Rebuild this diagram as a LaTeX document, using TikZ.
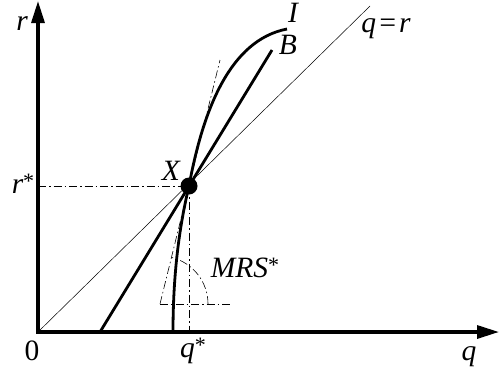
\documentclass[tikz,border=0pt]{standalone}
\usepackage{fontspec}
\setmainfont{Liberation Serif}
\newfontfamily\lblfont{Liberation Serif}
\usetikzlibrary{arrows.meta}
\newcommand{\myast}{\raisebox{0.16em}{\fontsize{22}{22}\selectfont\upshape *}}
\begin{document}
\begin{tikzpicture}[x=1pt,y=-1pt,
  font=\lblfont\fontsize{29.5}{34}\selectfont,
  axis/.style={line width=3.2pt,-{Triangle[length=22pt,width=13pt]}},
  curve/.style={line width=2.8pt},
  thin/.style={line width=0.5pt},
  dashdot/.style={line width=0.6pt,dash pattern=on 8pt off 3pt on 1.5pt off 3pt},
  lbl/.style={anchor=base,inner sep=0pt}]
\useasboundingbox (0,0) rectangle (500,368);
% coordinates
\coordinate (O) at (38,332);
\coordinate (X) at (189,186);
\coordinate (Ytop) at (38,1);
\coordinate (Xend) at (499,332);
\coordinate (Ostart) at (38,333.6);
\coordinate (Oleft) at (36.4,332);
\coordinate (D) at (370,6);
\coordinate (B0) at (100,332);
\coordinate (B1) at (272,50);
\coordinate (I0) at (173,332);
\coordinate (I1) at (287,29);
\coordinate (T1) at (220,60);
\coordinate (T2) at (160,304);
\coordinate (H2) at (230,304);
\coordinate (Rs) at (38,186);
\coordinate (Qs) at (189,332);
% q=r line
\draw[thin] (O) -- (D);
% dash-dot guides
\draw[dashdot] (Rs) -- (X);
\draw[dashdot] (X) -- (Qs);
\draw[dashdot] (T2) -- (T1);
\draw[dashdot] (T2) -- (H2);
\draw[dashdot] (T2) ++(48,0) arc[start angle=0,end angle=-76,radius=48];
% curves
\draw[curve] (B0) -- (B1);
\draw[curve] (I0) .. controls (173,280) and (178,232) .. (X)
  .. controls (203,110) and (230,40) .. (I1);
% axes
\draw[axis] (Ostart) -- (Ytop);
\draw[axis] (Oleft) -- (Xend);
% point
\fill (X) circle[radius=8.5];
% labels
\node[lbl] (lr) at (22,30) {\itshape r};
\node[lbl] (lrs) at (23,193) {\itshape r\myast};
\node[lbl] (l0) at (32,360) {0};
\node[lbl] (lqs) at (193,357) {\itshape q\myast};
\node[lbl] (lq) at (469,360) {\itshape q};
\node[lbl] (lX) at (171,180) {\itshape X};
\node[lbl] (lI) at (293,22) {\itshape I};
\node[lbl] (lB) at (288,54) {\itshape B};
\node[lbl] (lqr) at (386,32) {\itshape q\kern1.5pt=\kern1.5pt r};
\node[lbl] (lmrs) at (245,277) {\itshape MRS\myast};
\end{tikzpicture}
\end{document}
